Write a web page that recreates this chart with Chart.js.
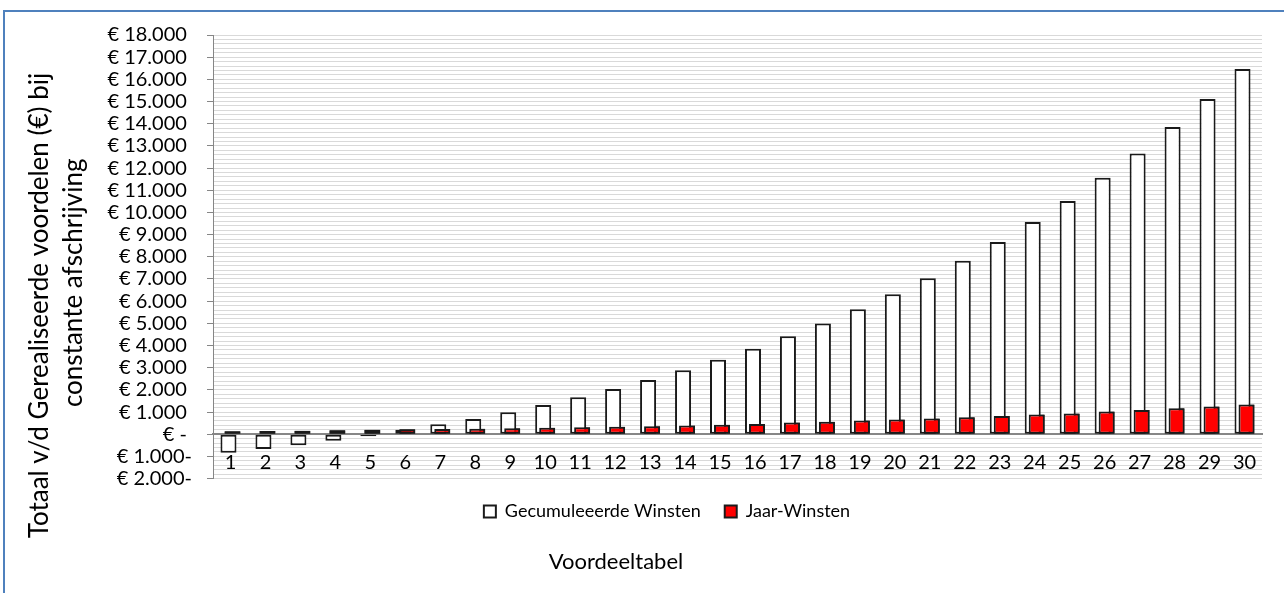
<!DOCTYPE html>
<html>
<head>
<meta charset="utf-8">
<script src="https://cdn.jsdelivr.net/npm/chart.js@4.4.1/dist/chart.umd.min.js"></script>
<style>
  body { margin: 0; background: #fff; }
  #wrap { position: relative; width: 1284px; height: 593px; overflow: hidden; }
  #frame { position: absolute; left: 3px; top: 10px; width: 1300px; height: 600px;
           border-top: 2px solid #4f81bd; border-left: 2px solid #4f81bd; }
  #wrap canvas { position: absolute; left: 0; top: 0; }
</style>
</head>
<body>
<div id="wrap">
  <div id="frame"></div>
  <canvas id="voordeelChart" width="1284" height="593"></canvas>
</div>
<script>
// Voordeeltabel: jaren 1 t/m 30
const jaren = ['1', '2', '3', '4', '5', '6', '7', '8', '9', '10',
               '11', '12', '13', '14', '15', '16', '17', '18', '19', '20',
               '21', '22', '23', '24', '25', '26', '27', '28', '29', '30'];

const gecumuleerdeWinsten = [-830, -665, -495, -290, -90, 200, 445, 690, 990, 1320,
                             1667, 2041, 2447, 2883, 3363, 3860, 4421, 4993, 5639, 6316,
                             7037, 7820, 8662, 9564, 10511, 11564, 12662, 13850, 15113, 16466];

const jaarWinsten = [130, 150, 160, 180, 200, 220, 235, 250, 270, 290,
                     310, 335, 365, 395, 430, 465, 530, 565, 615, 665,
                     715, 765, 825, 885, 940, 1020, 1090, 1170, 1255, 1345];

// y-as: -2.000 t/m 18.000, hulplijnen per 200, labels per 1.000
const yMin = -2000;
const yMax = 18000;
const yStap = 200;
const yLabelStap = 1000;

Chart.defaults.font.family = 'Lato, "Open Sans", sans-serif';
Chart.defaults.color = '#000';

// euro-notatie zoals in Excel (boekhoudnotatie, min-teken achteraan)
function euroLabel(value) {
    const v = Math.round(value);
    if (v % yLabelStap !== 0) return '';
    if (v === 0) return '€ - ';
    const bedrag = String(Math.abs(v)).replace(/\B(?=(\d{3})+(?!\d))/g, '.');
    return v < 0 ? `€ ${bedrag}-` : `€ ${bedrag} `;
}

// rode staven nog een keer tekenen zodat ze voor de witte staan
const roodVoorPlugin = {
    id: 'roodVoor',
    afterDatasetsDraw(chart) {
        const meta = chart.getDatasetMeta(1);
        chart.ctx.save();
        meta.data.forEach(bar => bar.draw(chart.ctx));
        chart.ctx.restore();
    }
};

// legenda en as-titel staan in Excel niet precies in het midden
const verschuifPlugin = {
    id: 'verschuif',
    afterLayout(chart) {
        chart.legend.left += 33;
        chart.legend.right += 33;
        chart.titleBlock.left -= 18;
        chart.titleBlock.right -= 18;
    }
};

const ctx = document.getElementById('voordeelChart').getContext('2d');
new Chart(ctx, {
    type: 'bar',
    data: {
        labels: jaren,
        datasets: [{
            label: 'Gecumuleeerde Winsten',
            data: gecumuleerdeWinsten,
            backgroundColor: '#ffffff',
            borderColor: '#1a1a1a',
            borderWidth: 2,
            borderSkipped: false
        }, {
            label: 'Jaar-Winsten',
            data: jaarWinsten,
            backgroundColor: '#ff0000',
            borderColor: '#1a1a1a',
            borderWidth: 2,
            borderSkipped: false
        }]
    },
    options: {
        responsive: false,
        animation: false,
        // staven overlappen: 4px verschoven, 16px breed
        categoryPercentage: 0.229,
        barPercentage: 4,
        layout: { padding: { left: 6, right: 22, top: 35, bottom: 0 } },
        scales: {
            x: {
                position: { y: 0 },
                z: 1,
                grid: { display: false },
                border: { display: true, color: '#868686', width: 2 },
                ticks: { autoSkip: false, maxRotation: 0, padding: 8, font: { size: 20 } }
            },
            y: {
                min: yMin,
                max: yMax,
                afterFit(scale) { scale.width = 207; },
                ticks: {
                    stepSize: yStap,
                    autoSkip: false,
                    padding: 15,
                    font: { size: 20 },
                    callback: euroLabel
                },
                grid: {
                    color: '#d9d9d9',
                    tickLength: 6,
                    tickColor: c => (Math.round(c.tick.value) % yLabelStap === 0 ? '#868686' : 'rgba(0,0,0,0)')
                },
                border: { color: '#868686', width: 1 },
                title: {
                    display: true,
                    // witruimte achteraan schuift de tekst omlaag, zoals in het origineel
                    text: ['Totaal v/d Gerealiseerde voordelen (€) bij\u2003\u2003\u2003\u2003\u2003',
                           'constante afschrijving\u2003\u2003\u2002'],
                    font: { size: 26, lineHeight: 1.31 },
                    padding: { top: 17, bottom: 0 }
                }
            }
        },
        plugins: {
            legend: {
                position: 'bottom',
                labels: {
                    boxWidth: 12,
                    boxHeight: 12,
                    padding: 24,
                    font: { size: 18 },
                    sort: (a, b) => a.datasetIndex - b.datasetIndex
                }
            },
            title: {
                display: true,
                position: 'bottom',
                text: 'Voordeeltabel',
                font: { size: 22, weight: 'normal', lineHeight: 1.2 },
                padding: { top: 18, bottom: 18 }
            },
            tooltip: { enabled: false }
        }
    },
    plugins: [roodVoorPlugin, verschuifPlugin]
});
</script>
</body>
</html>
